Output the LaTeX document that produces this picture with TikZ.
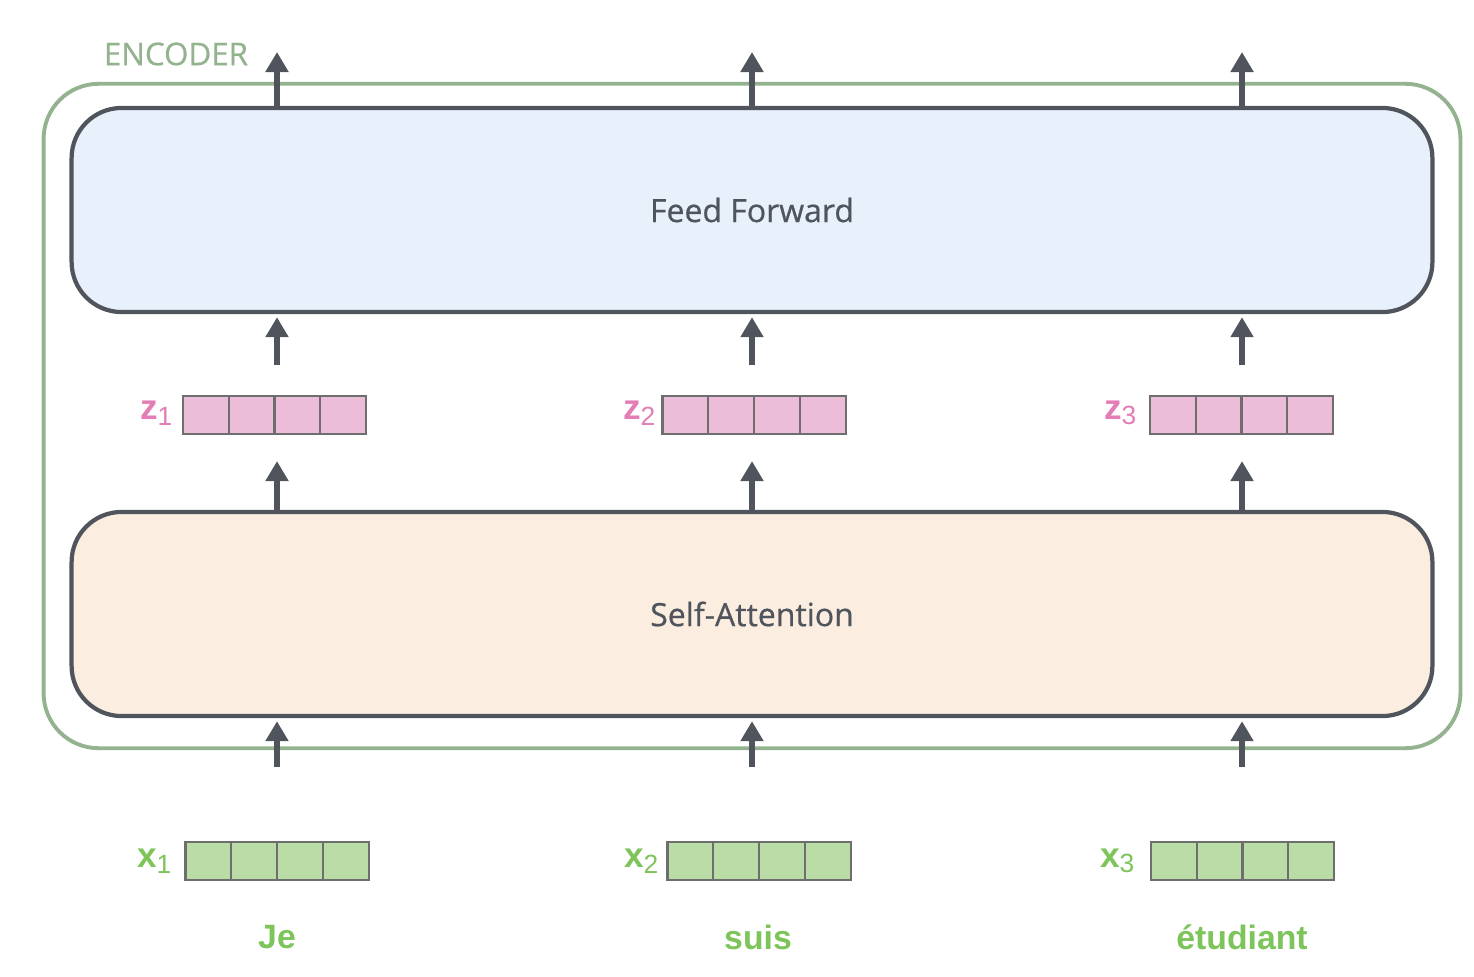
\documentclass[tikz,border=0pt]{standalone}
\usepackage{fontspec}
\setmainfont{Open Sans}
\newfontfamily\semifont[FakeBold=0.6]{Open Sans}
\newfontfamily\labfont{Liberation Sans}
\usepackage{tikz}
\usetikzlibrary{arrows.meta,positioning,calc}

\definecolor{boxline}{HTML}{50545C}
\definecolor{encgreen}{HTML}{93B38F}
\definecolor{fffill}{HTML}{E8F0FB}
\definecolor{safill}{HTML}{FBEEE0}
\definecolor{zpink}{HTML}{E27DB5}
\definecolor{zfill}{HTML}{EBBDD9}
\definecolor{xgreen}{HTML}{7DC45A}
\definecolor{xfill}{HTML}{BADCA6}
\definecolor{cellline}{HTML}{6E6E6E}

\newcommand{\veclab}[2]{{\labfont\fontsize{10}{10}\selectfont\bfseries #1}{\labfont\fontsize{7.5}{8}\selectfont\raisebox{-0.4ex}{#2}}}

\begin{document}
\begin{tikzpicture}[x=0.01cm,y=-0.01cm,
  layer/.style={draw=boxline,line width=1.2pt,rounded corners=0.5cm,
    minimum width=13.6cm,minimum height=2.04cm,inner sep=0pt,
    text=boxline,font=\semifont\fontsize{9.1}{10}\selectfont},
  vec/.style={draw=cellline,line width=0.6pt,fill=#1,minimum width=1.83cm,
    minimum height=0.38cm,inner sep=0pt,
    path picture={\foreach \i in {1,2,3}
      \draw[cellline,line width=0.6pt]
        ([xshift=\i*0.4575cm]path picture bounding box.south west) --
        ([xshift=\i*0.4575cm]path picture bounding box.north west);}},
  arr/.style={draw=boxline,line width=1.7pt,
    -{Triangle[length=0.2cm,width=0.22cm]}},
  word/.style={text=xgreen,font=\labfont\fontsize{9.6}{11}\selectfont\bfseries}]
\useasboundingbox (0,0) rectangle (1474,976);

% encoder frame
\node[draw=encgreen,line width=1.1pt,rounded corners=0.55cm,
  minimum width=14.16cm,minimum height=6.64cm] (enc) at (752,416) {};
\node[text=encgreen,font=\semifont\fontsize{8.9}{10}\selectfont] (enclab) at (176,54) {ENCODER};

% the two layers
\node[layer,fill=fffill] (ff) at (752,210) {Feed Forward};
\node[layer,fill=safill] (sa) at (752,614) {Self-Attention};

% columns
\coordinate (c1) at (277,52);
\coordinate (c2) at (752,52);
\coordinate (c3) at (1242,52);

% z vectors
\node[vec=zfill] (z1) at (274.5,415) {};
\node[vec=zfill] (z2) at (754,415) {};
\node[vec=zfill] (z3) at (1241.5,415) {};
\node[anchor=east,text=zpink,inner sep=0pt] (z1lab) at (173,413) {\veclab{z}{1}};
\node[anchor=east,text=zpink,inner sep=0pt] (z2lab) at (656,413) {\veclab{z}{2}};
\node[anchor=east,text=zpink,inner sep=0pt] (z3lab) at (1137,413) {\veclab{z}{3}};

% x vectors
\node[vec=xfill] (x1) at (277,861) {};
\node[vec=xfill] (x2) at (759,861) {};
\node[vec=xfill] (x3) at (1242.5,861) {};
\node[anchor=east,text=xgreen,inner sep=0pt] (x1lab) at (172,861) {\veclab{x}{1}};
\node[anchor=east,text=xgreen,inner sep=0pt] (x2lab) at (659,861) {\veclab{x}{2}};
\node[anchor=east,text=xgreen,inner sep=0pt] (x3lab) at (1135,861) {\veclab{x}{3}};

% words
\node[word] (w1) at (277,937) {Je};
\node[word] (w2) at (758,937) {suis};
\node[word] (w3) at (1242,937) {étudiant};

% arrows
\foreach \c/\z/\x in {c1/z1/x1,c2/z2/x2,c3/z3/x3}{
  \draw[arr] (ff.north -| \c) -- (\c);
  \draw[arr,shorten <=0.3cm,shorten >=0.03cm] (\z.north -| \c) -- (ff.south -| \c);
  \draw[arr,shorten >=0.26cm] (sa.north -| \c) -- (\z.south -| \c);
  \draw[arr,shorten <=0.74cm,shorten >=0.03cm] (\x.north -| \c) -- (sa.south -| \c);
}
\end{tikzpicture}
\end{document}
